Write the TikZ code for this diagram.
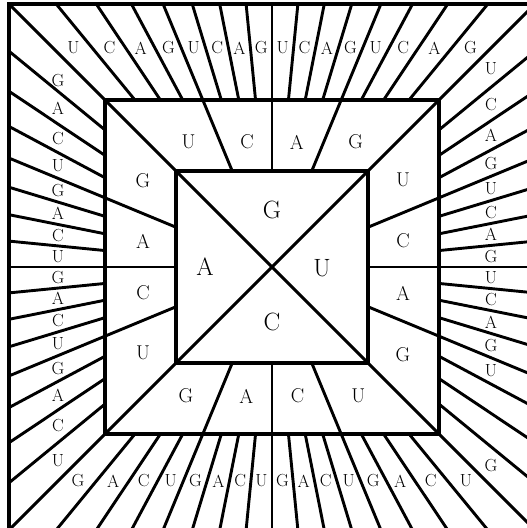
\documentclass[tikz,border=0pt]{standalone}
\begin{document}
\begin{tikzpicture}[x=1pt,y=1pt,line width=3pt,
  frame/.style={line width=3.2pt},
  rayline/.style={line width=2.9pt},
  outerlbl/.style={font=\fontsize{17.5}{17.5}\selectfont,inner sep=0pt},
  midlbl/.style={font=\fontsize{20}{20}\selectfont,inner sep=0pt},
  innerlbl/.style={font=\fontsize{25}{25}\selectfont,inner sep=0pt}]
\useasboundingbox (-272,-261) rectangle (255,267);
\clip (-272,-261) rectangle (255,267);
% squares
\draw[frame] (-263,-263) rectangle (263,263);
\draw[frame] (-167,-167) rectangle (167,167);
\draw[frame] (-96,-96) rectangle (96,96);
% diagonals
\draw[rayline] (-263,-263) -- (263,263);
\draw[rayline] (-263,263) -- (263,-263);
% rays
\foreach \k in {1,...,63}{
  \pgfmathtruncatemacro\q{mod(\k,16)}
  \ifnum\q>0
    \pgfmathsetmacro\t{135-\k*5.625}
    \pgfmathsetmacro\m{max(abs(cos(\t)),abs(sin(\t)))}
    \pgfmathtruncatemacro\f{mod(\k,4)}
    \pgfmathsetmacro\ri{(\f==0 ? 96 : 167)/\m}
    \pgfmathsetmacro\ro{263/\m}
    \draw[rayline] (\t:\ri) -- (\t:\ro);
  \fi
}
% outer labels
\foreach \k in {0,...,63}{
  \ifnum\k=29\relax\else\ifnum\k=30\relax\else
    \pgfmathsetmacro\t{135-(\k+0.5)*5.625}
    \pgfmathsetmacro\R{\k<32 ? 219 : 214}
    \pgfmathsetmacro\r{\R/max(abs(cos(\t)),abs(sin(\t)))}
    \pgfmathsetmacro\dy{\k==63 ? -7 : 0}
    \pgfmathtruncatemacro\i{mod(\k,4)}
    \node[outerlbl] (o\k) at ([yshift=\dy pt]\t:\r) {\ifcase\i U\or C\or A\or G\fi};
  \fi\fi
}
% middle labels
\foreach \j/\R in {0/125,1/125,2/125,3/125,4/131,5/131,6/131,7/131,8/129,9/129,10/129,11/129,12/129,13/129,14/129,15/129}{
  \pgfmathsetmacro\t{135-(\j+0.5)*22.5}
  \pgfmathsetmacro\r{\R/max(abs(cos(\t)),abs(sin(\t)))}
  \pgfmathtruncatemacro\i{mod(\j,4)}
  \node[midlbl] (m\j) at (\t:\r) {\ifcase\i U\or C\or A\or G\fi};
}
% inner labels
\node[innerlbl] (iG) at (0,57) {G};
\node[innerlbl] (iU) at (50,-1) {U};
\node[innerlbl] (iC) at (0,-55) {C};
\node[innerlbl] (iA) at (-67,0) {A};
\end{tikzpicture}
\end{document}
